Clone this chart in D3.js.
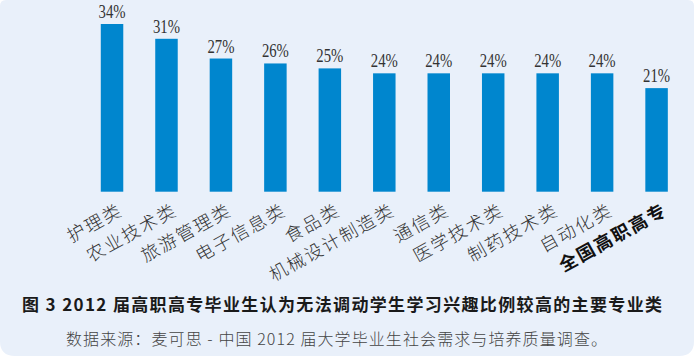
<!DOCTYPE html>
<html><head><meta charset="utf-8">
<script src="https://cdn.jsdelivr.net/npm/d3@7"></script>
<style>html,body{margin:0;padding:0;background:#fff;}svg{display:block;}</style>
</head><body>
<script>
const categories = ["护理类","农业技术类","旅游管理类","电子信息类","食品类","机械设计制造类","通信类","医学技术类","制药技术类","自动化类","全国高职高专"];
const values = [34,31,27,26,25,24,24,24,24,24,21];
const valueLabels = ["34%","31%","27%","26%","25%","24%","24%","24%","24%","24%","21%"];
const titleText = "图 3 2012 届高职高专毕业生认为无法调动学生学习兴趣比例较高的主要专业类";
const sourceText = "数据来源：麦可思 - 中国 2012 届大学毕业生社会需求与培养质量调查。";

const W = 694, H = 356;
const svg = d3.select("body").append("svg").attr("width", W).attr("height", H);

// background panel with asymmetric rounded corners
const rTL = 6, rTR = 6, rBR = 15, rBL = 15;
const p = d3.path();
p.moveTo(rTL, 0);
p.lineTo(W - rTR, 0); p.quadraticCurveTo(W, 0, W, rTR);
p.lineTo(W, H - rBR); p.quadraticCurveTo(W, H, W - rBR, H);
p.lineTo(rBL, H); p.quadraticCurveTo(0, H, 0, H - rBL);
p.lineTo(0, rTL); p.quadraticCurveTo(0, 0, rTL, 0);
p.closePath();
svg.append("path").attr("d", p.toString()).attr("fill", "#E9F0FA");

const x = d3.scaleBand().domain(categories).range([84.8, 683.8]).paddingInner(0.587).paddingOuter(0.2935);
const y = d3.scaleLinear().domain([0, 34]).range([191.7, 24]);

svg.append("g").selectAll("rect").data(values).join("rect")
  .attr("x", (d, i) => x(categories[i]))
  .attr("y", d => y(d))
  .attr("width", x.bandwidth())
  .attr("height", d => y(0) - y(d))
  .attr("fill", "#0086CE");

svg.append("g").selectAll("text").data(values).join("text")
  .attr("x", (d, i) => x(categories[i]) + x.bandwidth() / 2)
  .attr("y", d => y(d) - 6)
  .attr("text-anchor", "middle")
  .attr("font-family", "'Liberation Serif', serif")
  .attr("font-size", 19)
  .attr("textLength", 27).attr("lengthAdjust", "spacingAndGlyphs")
  .attr("fill", "#333")
  .text((d, i) => valueLabels[i]);

svg.append("g").selectAll("text").data(categories).join("text")
  .attr("transform", d => `translate(${x(d) + x.bandwidth() / 2 + 12},214) rotate(-29)`)
  .attr("text-anchor", "end")
  .attr("font-family", "'Noto Sans CJK SC', sans-serif")
  .attr("font-size", 18)
  .attr("letter-spacing", 2)
  .attr("font-weight", (d, i) => i === categories.length - 1 ? 700 : 300)
  .attr("fill", (d, i) => i === categories.length - 1 ? "#111" : "#333")
  .text(d => d);

svg.append("text")
  .attr("x", 22).attr("y", 311)
  .attr("font-family", "'Noto Sans CJK SC', sans-serif")
  .attr("font-size", 17).attr("font-weight", 700)
  .attr("fill", "#1a1a1a")
  .attr("textLength", 640).attr("lengthAdjust", "spacing")
  .text(titleText);

svg.append("text")
  .attr("x", 66).attr("y", 345)
  .attr("font-family", "'Noto Sans CJK SC', sans-serif")
  .attr("font-size", 16).attr("font-weight", 300)
  .attr("fill", "#444")
  .attr("textLength", 541).attr("lengthAdjust", "spacing")
  .text(sourceText);
</script>
</body></html>
